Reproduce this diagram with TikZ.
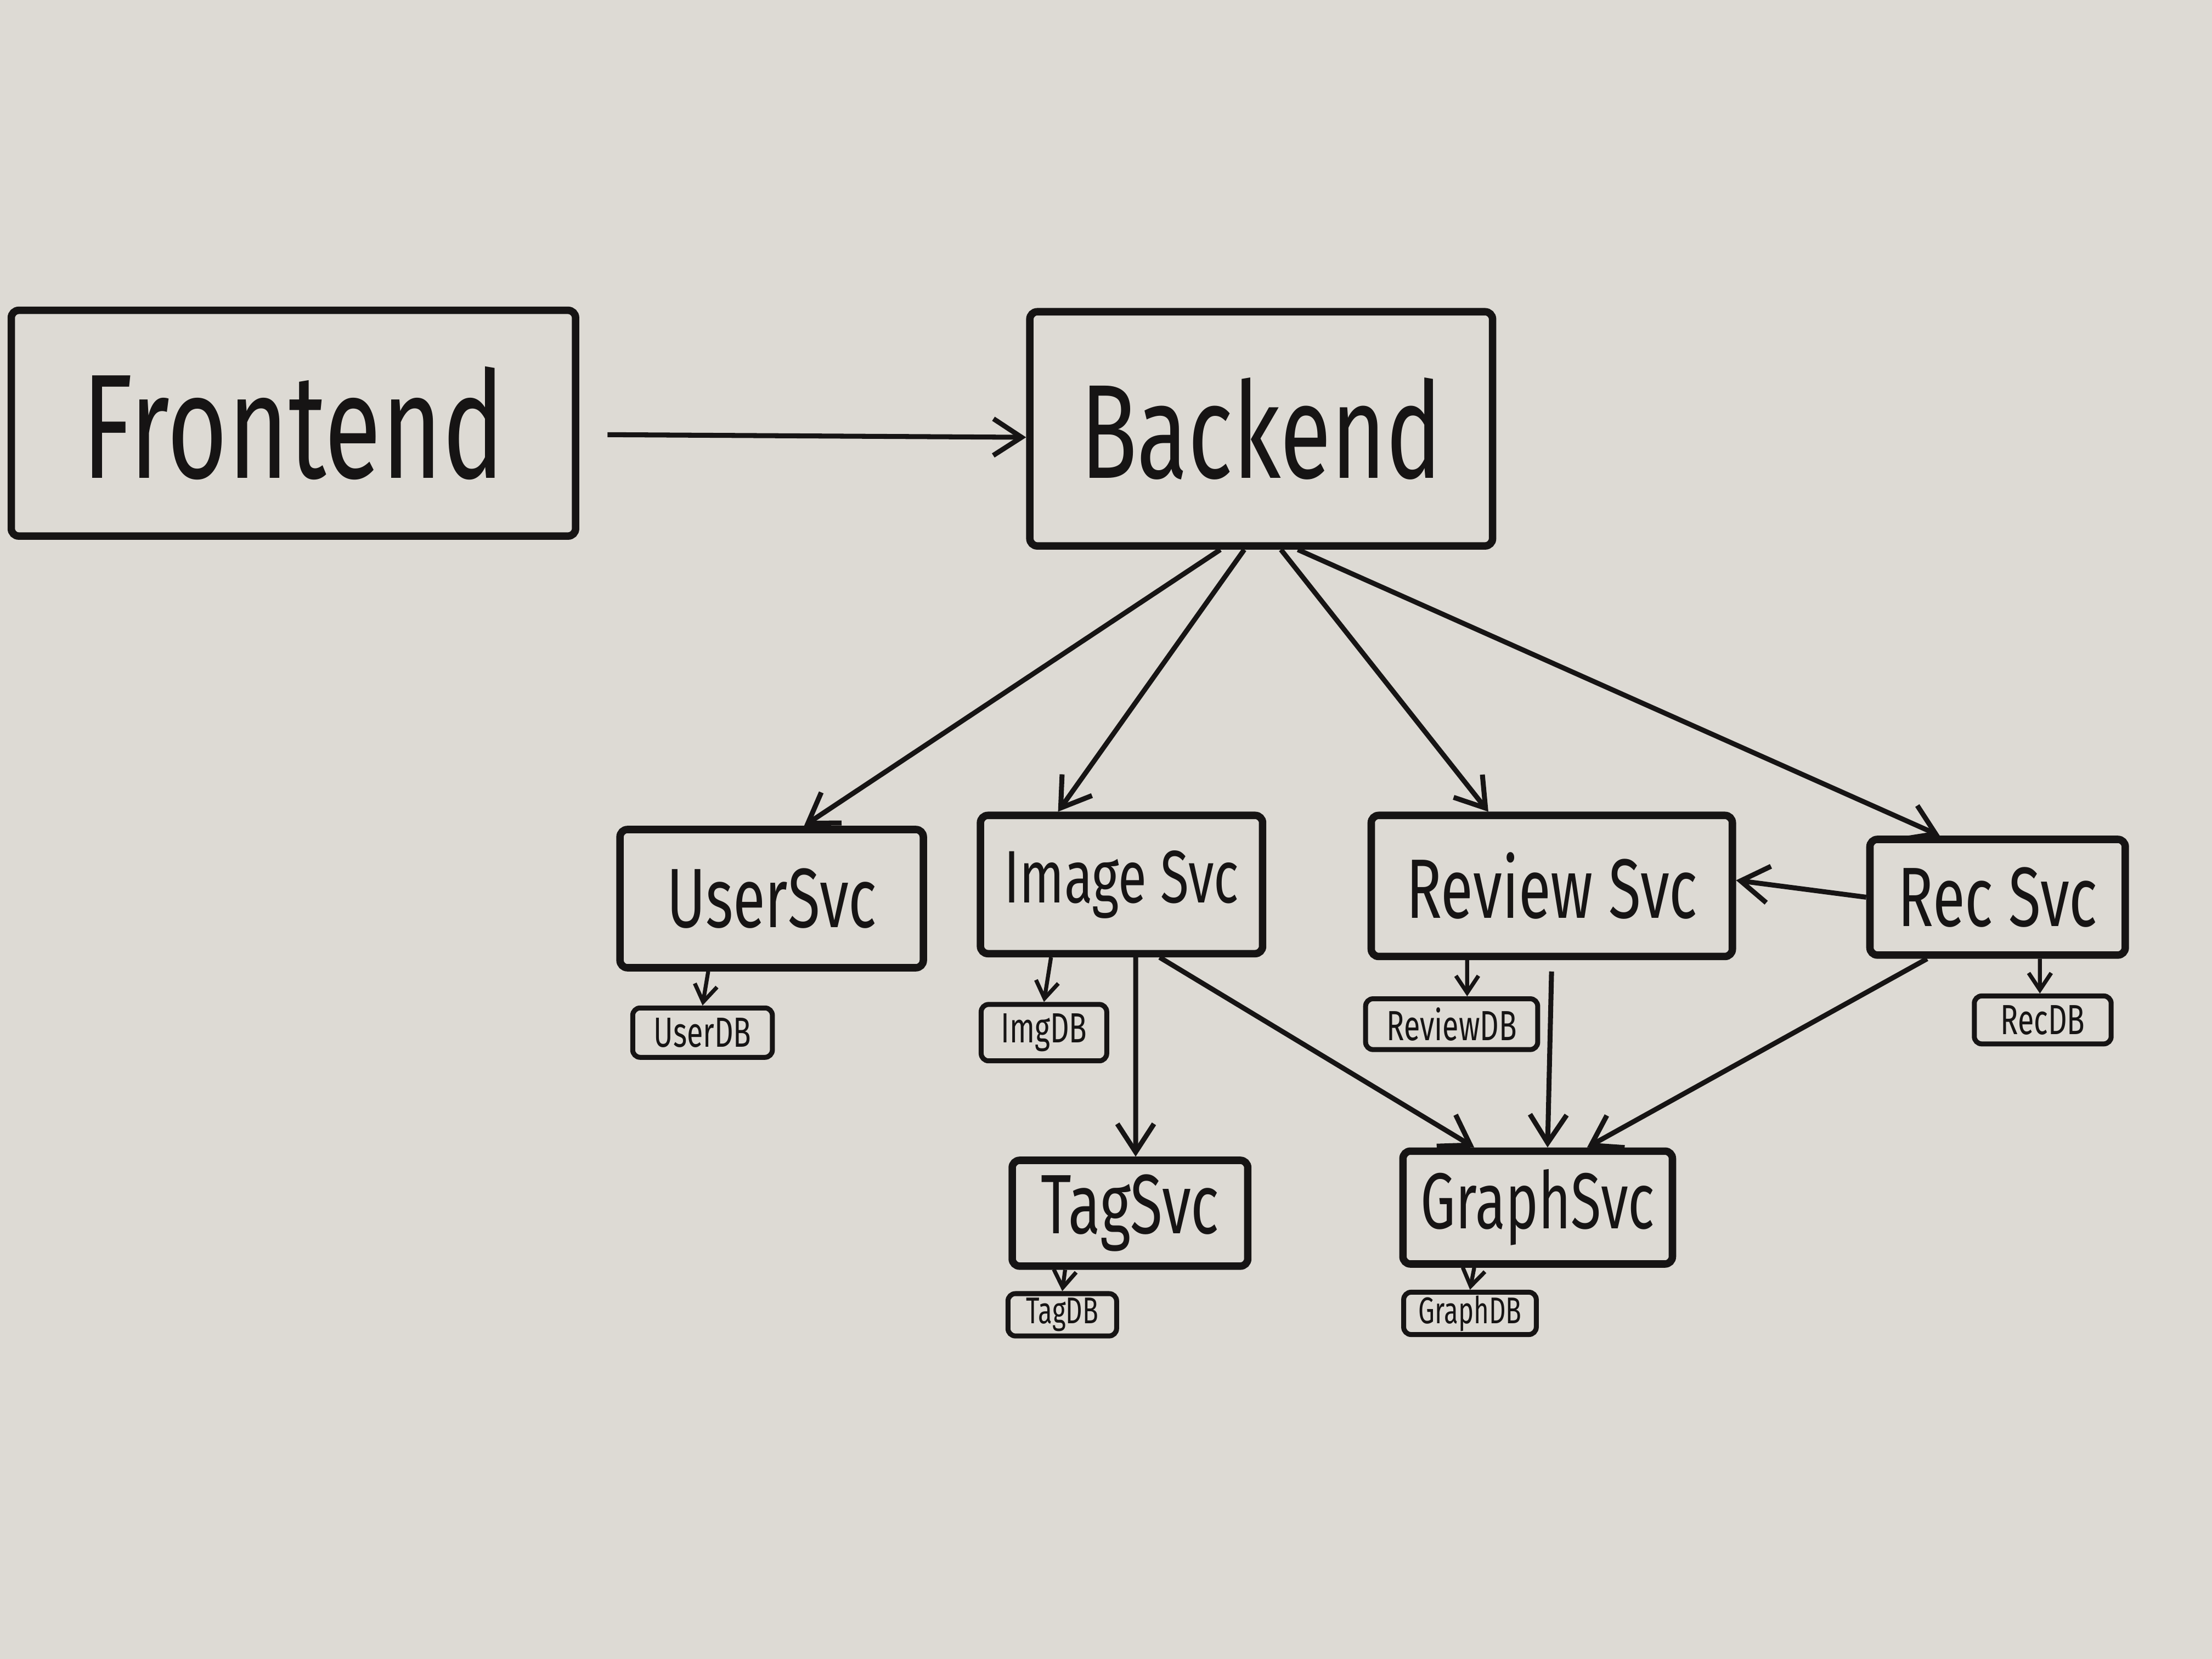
\documentclass[tikz,border=0pt]{standalone}
\usepackage{fontspec}
\usetikzlibrary{arrows.meta}
\newfontfamily\hand[FakeStretch=0.7]{Fira Sans}
\definecolor{board}{RGB}{221,218,212}
\definecolor{ink}{RGB}{22,20,20}
\tikzset{
  box/.style={draw=ink, line width=1.5pt, rounded corners=1.5pt, inner sep=0pt, text=ink},
  bigbox/.style={box, font=\hand\fontsize{30}{32}\selectfont},
  svcbox/.style={box, font=\hand\fontsize{17}{19}\selectfont},
  dbbox/.style={box, line width=1pt, font=\hand\fontsize{8.5}{10}\selectfont},
  conn/.style={draw=ink, line width=1pt, -{Straight Barb[length=2mm,width=2.6mm,line width=1pt]}},
  dbconn/.style={draw=ink, line width=0.8pt, -{Straight Barb[length=1.2mm,width=1.6mm,line width=0.8pt]}}
}
\begin{document}
\begin{tikzpicture}
\fill[board] (0,0) rectangle (15.68,-11.76);
\useasboundingbox (0,0) rectangle (15.68,-11.76);

\node[bigbox, minimum width=4.0cm, minimum height=1.6cm] (F) at (2.08,-3.00) {Frontend};
\node[bigbox, minimum width=3.28cm, minimum height=1.66cm, font=\hand\fontsize{27}{29}\selectfont] (B) at (8.94,-3.04) {Backend};

\node[svcbox, minimum width=2.15cm, minimum height=0.98cm] (U) at (5.47,-6.37) {UserSvc};
\node[svcbox, minimum width=2.00cm, minimum height=0.98cm, font=\hand\fontsize{15}{17}\selectfont] (I) at (7.95,-6.27) {Image Svc};
\node[svcbox, minimum width=2.56cm, minimum height=1.00cm] (Rv) at (11.00,-6.28) {Review Svc};
\node[svcbox, minimum width=1.81cm, minimum height=0.82cm] (Rc) at (14.16,-6.36) {Rec Svc};
\node[svcbox, minimum width=1.67cm, minimum height=0.75cm] (T) at (8.01,-8.60) {TagSvc};
\node[svcbox, minimum width=1.91cm, minimum height=0.80cm, font=\hand\fontsize{16}{18}\selectfont] (G) at (10.90,-8.56) {GraphSvc};

\node[dbbox, minimum width=0.99cm, minimum height=0.35cm] (UDB) at (4.98,-7.32) {UserDB};
\node[dbbox, minimum width=0.89cm, minimum height=0.40cm] (IDB) at (7.40,-7.32) {ImgDB};
\node[dbbox, minimum width=1.22cm, minimum height=0.36cm] (RvDB) at (10.29,-7.26) {ReviewDB};
\node[dbbox, minimum width=0.97cm, minimum height=0.34cm] (RcDB) at (14.48,-7.23) {RecDB};
\node[dbbox, minimum width=0.77cm, minimum height=0.30cm, font=\hand\fontsize{7.5}{9}\selectfont] (TDB) at (7.53,-9.32) {TagDB};
\node[dbbox, minimum width=0.94cm, minimum height=0.30cm, font=\hand\fontsize{7.5}{9}\selectfont] (GDB) at (10.42,-9.31) {GraphDB};

\draw[conn, shorten <=2mm] ([yshift=-0.8mm]F.east) -- ([yshift=-0.6mm]B.west);
\draw[conn] ([xshift=-2.9mm]B.south) -- ([xshift=2.3mm]U.north);
\draw[conn] ([xshift=-1.2mm]B.south) -- ([xshift=-4.5mm]I.north);
\draw[conn] ([xshift=1.4mm]B.south) -- ([xshift=-4.5mm]Rv.north);
\draw[conn] ([xshift=2.6mm]B.south) -- ([xshift=-4.1mm]Rc.north);
\draw[conn] (Rc.west) -- ([yshift=0.4mm]Rv.east);
\draw[conn] ([xshift=1mm]I.south) -- ([xshift=0.4mm]T.north);
\draw[conn] ([xshift=2.7mm]I.south) -- ([xshift=-4.5mm]G.north);
\draw[conn, shorten <=0.8mm] (Rv.south) -- ([xshift=0.7mm]G.north);
\draw[conn] ([xshift=-5mm]Rc.south) -- ([xshift=3.5mm]G.north);

\draw[dbconn] ([xshift=-4.5mm]U.south) -- (UDB.north);
\draw[dbconn] ([xshift=-5mm]I.south) -- (IDB.north);
\draw[dbconn] ([xshift=-6mm]Rv.south) -- ([xshift=1.1mm]RvDB.north);
\draw[dbconn] ([xshift=3mm]Rc.south) -- ([xshift=-0.2mm]RcDB.north);
\draw[dbconn] ([xshift=-4.6mm]T.south) -- (TDB.north);
\draw[dbconn] ([xshift=-4.5mm]G.south) -- (GDB.north);
\end{tikzpicture}
\end{document}
